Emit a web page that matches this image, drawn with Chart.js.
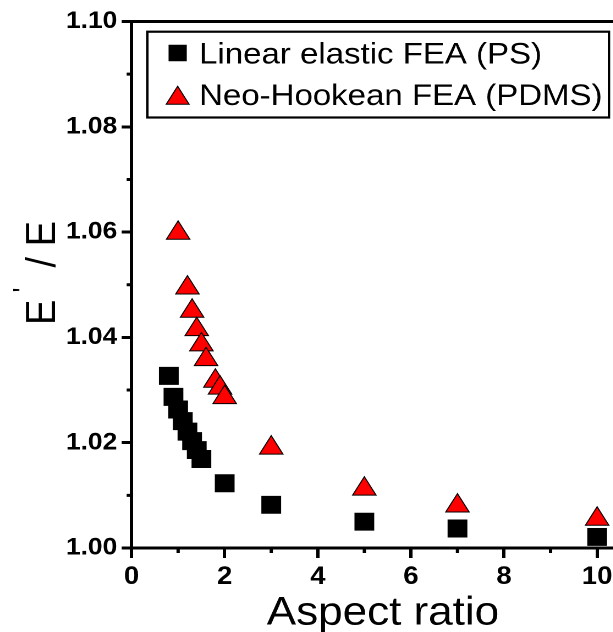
<!DOCTYPE html>
<html>
<head>
<meta charset="utf-8">
<title>E'/E versus aspect ratio</title>
<script src="https://cdn.jsdelivr.net/npm/chart.js@4.4.1/dist/chart.umd.min.js"></script>
<style>
  html, body { margin: 0; padding: 0; background: #fff; overflow: hidden; width: 613px; height: 632px; }
  #wrap { position: absolute; left: 0; top: 0; width: 590px; height: 650px;
          transform: scaleX(1.1); transform-origin: 0 0; }
</style>
</head>
<body>
<div id="wrap"><canvas id="c" width="590" height="650"></canvas></div>
<script>
// Linear elastic FEA (PS)
const aspectLinear = [0.8, 0.9, 1.0, 1.1, 1.2, 1.3, 1.4, 1.5, 2, 3, 5, 7, 10];
const ratioLinear  = [1.0327, 1.0287, 1.0263, 1.0241, 1.0221, 1.0203, 1.0186, 1.0169, 1.0123, 1.0082, 1.0050, 1.0037, 1.0021];

// Neo-Hookean FEA (PDMS)
const aspectNeo = [1.0, 1.2, 1.3, 1.4, 1.5, 1.6, 1.8, 1.9, 2.0, 3, 5, 7, 10];
const ratioNeo  = [1.0598, 1.0494, 1.0450, 1.0415, 1.0386, 1.0358, 1.0317, 1.0304, 1.0286, 1.0190, 1.0112, 1.0080, 1.0055];

const seriesLabels = ['Linear elastic FEA (PS)', 'Neo-Hookean FEA (PDMS)'];

// Axis ticks
const xTickValues = [0, 2, 4, 6, 8, 10];
const xTickLabels = ['0', '2', '4', '6', '8', '10'];
const xMinorTicks = [1, 3, 5, 7, 9];
const yTickValues = [1.00, 1.02, 1.04, 1.06, 1.08, 1.10];
const yTickLabels = ['1.00', '1.02', '1.04', '1.06', '1.08', '1.10'];
const yMinorTicks = [1.01, 1.03, 1.05, 1.07, 1.09];

const FONT = '"Liberation Sans", Arial, Helvetica, sans-serif';

function labelFor(values, labels) {
  return function (v) {
    const i = values.findIndex(t => Math.abs(t - v) < 1e-9);
    return i >= 0 ? labels[i] : '';
  };
}

// Box around the plot: top and right sides (left/bottom come from the axis borders)
const framePlugin = {
  id: 'frame',
  afterDraw(chart) {
    const { ctx, chartArea: a } = chart;
    ctx.save();
    ctx.strokeStyle = '#000';
    ctx.lineWidth = 3;
    ctx.lineCap = 'square';
    ctx.beginPath();
    ctx.moveTo(a.left, a.top);
    ctx.lineTo(a.right, a.top);
    ctx.lineTo(a.right, a.bottom);
    ctx.stroke();
    ctx.restore();
  }
};

// Short unlabelled ticks between the major ones
const minorTicksPlugin = {
  id: 'minorTicks',
  afterDraw(chart) {
    const { ctx, chartArea: a, scales } = chart;
    ctx.save();
    ctx.strokeStyle = '#000';
    ctx.lineWidth = 3;
    ctx.beginPath();
    xMinorTicks.forEach(v => {
      const p = scales.x.getPixelForValue(v);
      ctx.moveTo(p, a.bottom);
      ctx.lineTo(p, a.bottom + 5);
    });
    yMinorTicks.forEach(v => {
      const p = scales.y.getPixelForValue(v);
      ctx.moveTo(a.left, p);
      ctx.lineTo(a.left - 4.5, p);
    });
    ctx.stroke();
    ctx.restore();
  }
};

// Vertical axis title with a raised prime: E' / E
const yTitlePlugin = {
  id: 'yTitle',
  afterDraw(chart) {
    const { ctx } = chart;
    ctx.save();
    ctx.translate(50, 325);
    ctx.rotate(-Math.PI / 2);
    ctx.fillStyle = '#000';
    ctx.textAlign = 'left';
    ctx.textBaseline = 'alphabetic';
    ctx.font = '38px ' + FONT;
    ctx.fillText('E', 0, 0);
    ctx.font = '26px ' + FONT;
    ctx.fillText("'", 32.5, -20);
    ctx.font = '38px ' + FONT;
    ctx.fillText(' / E', 47, 0);
    ctx.restore();
  }
};

// Boxed legend inside the plot area, built from the dataset styles
const legendBoxPlugin = {
  id: 'legendBox',
  afterDraw(chart) {
    const { ctx } = chart;
    const box = { left: 133.9, top: 31.7, right: 553.6, bottom: 117.5 };
    ctx.save();
    ctx.fillStyle = '#fff';
    ctx.fillRect(box.left, box.top, box.right - box.left, box.bottom - box.top);
    ctx.strokeStyle = '#000';
    ctx.lineWidth = 2.2;
    ctx.strokeRect(box.left, box.top, box.right - box.left, box.bottom - box.top);

    const rows = [
      { symY: 53, textY: 63.3, radius: 11 },
      { symY: 98.3, textY: 105, radius: 12 }
    ];
    chart.data.datasets.forEach((ds, i) => {
      const r = rows[i];
      ctx.fillStyle = ds.backgroundColor;
      ctx.strokeStyle = ds.borderColor;
      ctx.lineWidth = ds.borderWidth;
      const opts = { pointStyle: ds.pointStyle, radius: r.radius, rotation: 0, borderWidth: ds.borderWidth };
      if (Chart.helpers && Chart.helpers.drawPoint) {
        Chart.helpers.drawPoint(ctx, opts, 161.5, r.symY);
      } else {
        ctx.beginPath();
        if (ds.pointStyle === 'rect') {
          const s = r.radius * Math.SQRT1_2;
          ctx.rect(161.5 - s, r.symY - s, 2 * s, 2 * s);
        } else {
          for (let k = 0; k < 3; k++) {
            const ang = k * 2 * Math.PI / 3;
            ctx.lineTo(161.5 + Math.sin(ang) * r.radius, r.symY - Math.cos(ang) * r.radius);
          }
          ctx.closePath();
        }
        ctx.fill();
        ctx.stroke();
      }
      ctx.fillStyle = '#000';
      ctx.font = '30px ' + FONT;
      ctx.textAlign = 'left';
      ctx.textBaseline = 'alphabetic';
      ctx.fillText(ds.label, 181, r.textY);
    });
    ctx.restore();
  }
};

const ctx = document.getElementById('c').getContext('2d');
new Chart(ctx, {
  type: 'scatter',
  data: {
    datasets: [
      {
        label: seriesLabels[0],
        data: aspectLinear.map((x, i) => ({ x, y: ratioLinear[i] })),
        pointStyle: 'rect',
        pointRadius: 12,
        pointHoverRadius: 12,
        backgroundColor: '#000000',
        borderColor: '#000000',
        borderWidth: 1,
        clip: false
      },
      {
        label: seriesLabels[1],
        data: aspectNeo.map((x, i) => ({ x, y: ratioNeo[i] })),
        pointStyle: 'triangle',
        pointRadius: 12.3,
        pointHoverRadius: 12.3,
        backgroundColor: '#ff0000',
        borderColor: '#000000',
        borderWidth: 1,
        clip: false
      }
    ]
  },
  options: {
    responsive: false,
    animation: false,
    devicePixelRatio: 2,
    events: [],
    layout: { padding: { left: 60, top: 21.5, right: 12, bottom: 12.3 } },
    plugins: { legend: { display: false }, tooltip: { enabled: false } },
    scales: {
      x: {
        type: 'linear',
        min: 0,
        max: 10.8,
        afterBuildTicks(scale) { scale.ticks = xTickValues.map(v => ({ value: v })); },
        afterFit(scale) { scale.height = 89.7; },
        grid: { display: true, drawOnChartArea: false, drawTicks: true, tickLength: 10, tickWidth: 3, tickColor: '#000' },
        border: { display: true, width: 3, color: '#000' },
        ticks: {
          padding: 4,
          color: '#000',
          maxRotation: 0,
          autoSkip: false,
          font: { family: FONT, size: 25, weight: 'bold' },
          callback: labelFor(xTickValues, xTickLabels)
        },
        title: {
          display: true,
          text: 'Aspect ratio',
          color: '#000',
          font: { family: FONT, size: 40 },
          padding: { top: 0, bottom: 0 }
        }
      },
      y: {
        type: 'linear',
        min: 1.0,
        max: 1.1,
        afterBuildTicks(scale) { scale.ticks = yTickValues.map(v => ({ value: v })); },
        afterFit(scale) { scale.width = 59.6; },
        grid: { display: true, drawOnChartArea: false, drawTicks: true, tickLength: 9, tickWidth: 3, tickColor: '#000' },
        border: { display: true, width: 3, color: '#000' },
        ticks: {
          padding: 4,
          color: '#000',
          autoSkip: false,
          font: { family: FONT, size: 24, weight: 'bold' },
          callback: labelFor(yTickValues, yTickLabels)
        }
      }
    }
  },
  plugins: [framePlugin, minorTicksPlugin, yTitlePlugin, legendBoxPlugin]
});
</script>
</body>
</html>
